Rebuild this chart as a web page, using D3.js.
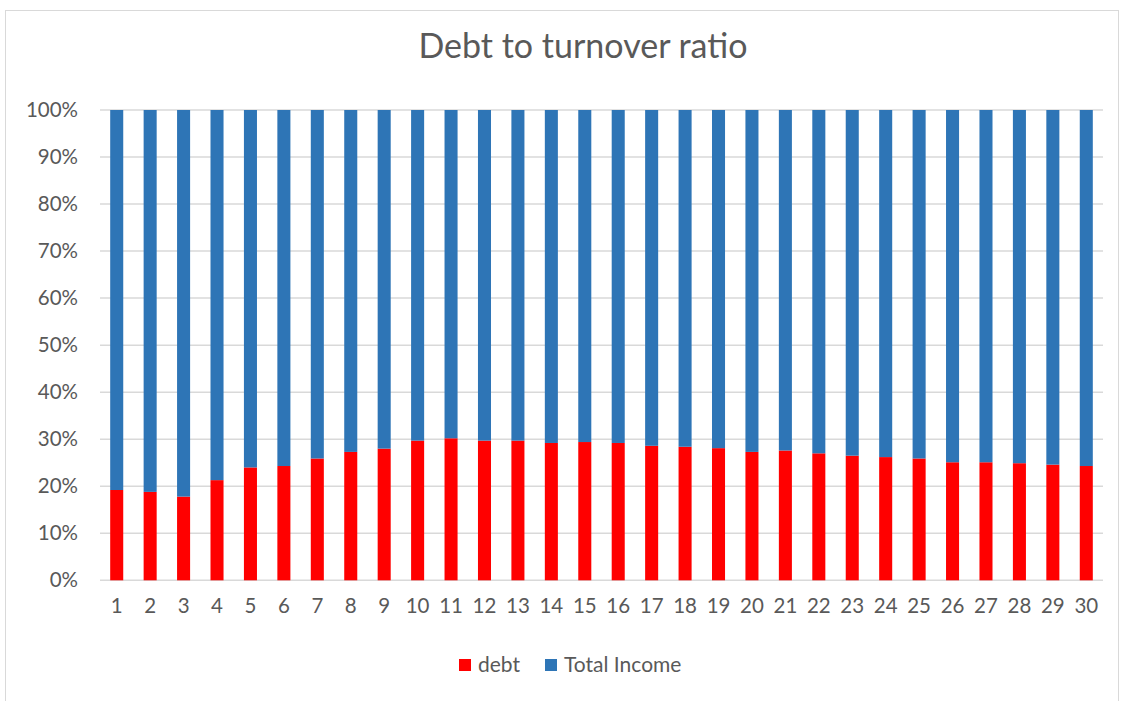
<!DOCTYPE html>
<html><head><meta charset="utf-8">
<script src="https://cdn.jsdelivr.net/npm/d3@7"></script>
<style>body{margin:0;background:#fff}svg{display:block}</style>
</head><body>
<script>
const categories = d3.range(1, 31).map(String);
const debt = [19.2,18.8,17.8,21.3,24.0,24.3,25.9,27.3,28.0,29.7,30.2,29.7,29.7,29.2,29.4,29.2,28.6,28.4,28.1,27.3,27.6,27.0,26.5,26.2,25.9,25.1,25.1,24.9,24.6,24.3];
const totalIncome = debt.map(d => 100 - d); // share of the 100% stack
const yTicks = [0,10,20,30,40,50,60,70,80,90,100];
const seriesNames = ["debt", "Total Income"];
const colors = ["#FF0000", "#2E75B6"];

const W = 1121, H = 701;
const svg = d3.select("body").append("svg").attr("width", W).attr("height", H);
const font = "Lato, 'Open Sans', sans-serif";

svg.append("rect").attr("x", 5.5).attr("y", 10.5).attr("width", W - 8).attr("height", H - 8)
  .attr("fill", "#fff").attr("stroke", "#d9d9d9");

const m = {left: 100, right: 1103, top: 110, bottom: 580.3};
const x = d3.scaleBand().domain(categories).range([m.left, m.right]).paddingInner(0.61).paddingOuter(0.305);
const y = d3.scaleLinear().domain([0, 100]).range([m.bottom, m.top]);

const grid = svg.append("g");
grid.selectAll("line").data(yTicks).join("line")
  .attr("x1", m.left).attr("x2", m.right)
  .attr("y1", d => y(d)).attr("y2", d => y(d))
  .attr("stroke", "#d9d9d9").attr("stroke-width", 1.5);

const rows = categories.map((c, i) => ({cat: c, debt: debt[i], income: totalIncome[i]}));
const stack = d3.stack().keys(["debt", "income"])(rows);
svg.append("g").selectAll("g").data(stack).join("g")
  .attr("fill", (d, i) => colors[i])
  .selectAll("rect").data(d => d).join("rect")
  .attr("x", d => x(d.data.cat))
  .attr("width", x.bandwidth())
  .attr("y", d => y(d[1]))
  .attr("height", d => y(d[0]) - y(d[1]));

const yAxis = d3.axisLeft(y).tickValues(yTicks).tickFormat(d => d + "%").tickSize(0).tickPadding(22);
const ya = svg.append("g").attr("transform", `translate(${m.left},0)`).call(yAxis);
ya.select(".domain").remove();
ya.selectAll("text").attr("font-family", font).attr("font-size", 20.5).attr("fill", "#595959");

const xAxis = d3.axisBottom(x).tickSize(0).tickPadding(18);
const xa = svg.append("g").attr("transform", `translate(0,${m.bottom})`).call(xAxis);
xa.select(".domain").remove();
xa.selectAll("text").attr("font-family", font).attr("font-size", 20.5).attr("fill", "#595959");

svg.append("text").attr("x", 583).attr("y", 58).attr("text-anchor", "middle")
  .attr("font-family", font).attr("font-size", 34).attr("fill", "#595959")
  .text("Debt to turnover ratio");

const legX = [459, 545];
const leg = svg.append("g");
seriesNames.forEach((n, i) => {
  leg.append("rect").attr("x", legX[i]).attr("y", 659).attr("width", 12).attr("height", 12).attr("fill", colors[i]);
  leg.append("text").attr("x", legX[i] + 19).attr("y", 672).attr("font-family", font)
    .attr("font-size", 21).attr("fill", "#595959").text(n);
});
</script>
</body></html>
